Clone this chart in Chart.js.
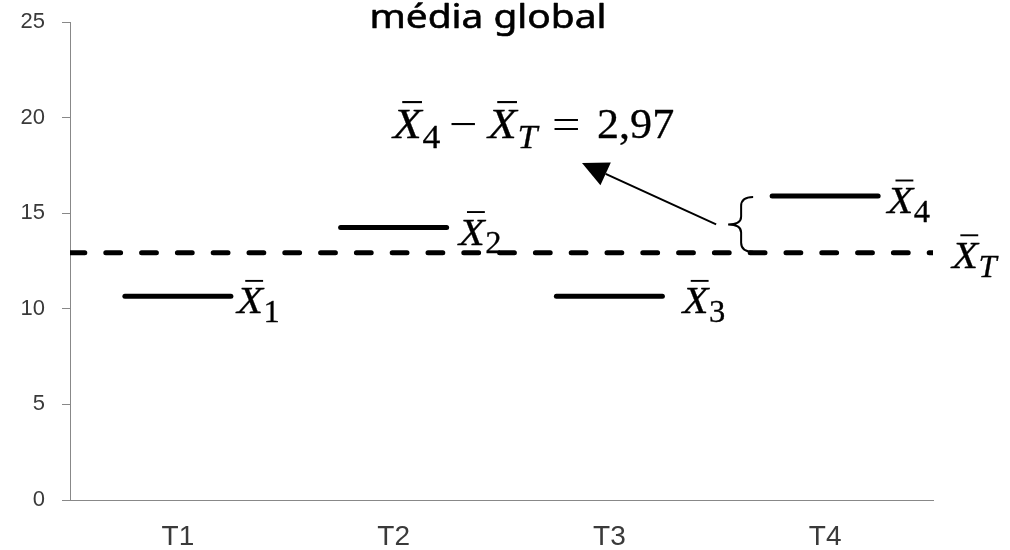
<!DOCTYPE html>
<html>
<head>
<meta charset="utf-8">
<script src="https://cdn.jsdelivr.net/npm/chart.js@4/dist/chart.umd.min.js"></script>
<style>
  html, body { margin: 0; padding: 0; background: #ffffff; }
  #wrap { width: 1010px; height: 550px; position: relative; }
</style>
</head>
<body>
<div id="wrap"><canvas id="chart" width="1010" height="550"></canvas></div>
<script>
// Treatment groups and their means
const categories = ['T1', 'T2', 'T3', 'T4'];
const groupMeans = [10.65, 14.25, 10.65, 15.90];
const meanSubscripts = ['1', '2', '3', '4'];
// Overall mean across all treatments
const globalMean = 12.93;
// Difference shown in the annotation (X̄4 − X̄T)
const diffText = '2,97';
// Value axis ticks
const yTicks = [0, 5, 10, 15, 20, 25];
const titleText = 'média global';

const MATH_FONT = "'Liberation Serif', 'DejaVu Serif', serif";
const AXIS_GRAY = '#888888';

// Draw one piece of text, optionally stretched horizontally
function drawText(ctx, text, x, baseline, font, sx, stroke) {
  ctx.save();
  ctx.translate(x, baseline);
  ctx.scale(sx || 1, 1);
  ctx.font = font;
  ctx.textBaseline = 'alphabetic';
  ctx.textAlign = 'left';
  ctx.fillText(text, 0, 0);
  if (stroke) {
    ctx.lineWidth = stroke;
    ctx.strokeStyle = ctx.fillStyle;
    ctx.lineJoin = 'round';
    ctx.strokeText(text, 0, 0);
  }
  ctx.restore();
}

// X with an overbar, followed by a lowered subscript
function drawXbar(ctx, x, baseline, size, sub, subItalic, subSize) {
  const sx = 1.12;
  drawText(ctx, 'X', x, baseline, 'italic ' + size + 'px ' + MATH_FONT, sx, 0.3);
  ctx.save();
  ctx.fillStyle = '#000';
  ctx.fillRect(x + 0.22 * size, baseline - 0.88 * size, 0.47 * size, Math.max(1.6, size * 0.05));
  ctx.restore();
  if (sub) {
    drawText(ctx, sub, x + 0.70 * size, baseline + 0.23 * size,
      (subItalic ? 'italic ' : '') + subSize + 'px ' + MATH_FONT, 1.05, 0.3);
  }
}

const decorations = {
  id: 'decorations',
  beforeDatasetDraw(chart, args) {
    if (args.index === 0) chart.ctx.lineCap = 'round';
  },
  afterDatasetDraw(chart, args) {
    if (args.index === 0) chart.ctx.lineCap = 'butt';
  },
  afterDraw(chart) {
    const ctx = chart.ctx;
    const xs = chart.scales.x;
    const ys = chart.scales.y;
    const area = chart.chartArea;
    ctx.save();
    ctx.fillStyle = '#000';

    // Heading at the top
    const titleFont = "33px 'Noto Sans', 'Open Sans', sans-serif";
    ctx.font = titleFont;
    const tw = ctx.measureText(titleText).width;
    const targetW = 237;
    drawText(ctx, titleText, 488 - targetW / 2, 28, titleFont, targetW / tw, 0.6);

    // Labels next to each group mean
    const labelDx = [59, 65, 73, 62];
    groupMeans.forEach((v, i) => {
      const px = xs.getPixelForValue(i);
      const py = ys.getPixelForValue(v);
      drawXbar(ctx, px + labelDx[i], py + 17, 38, meanSubscripts[i], false, 31);
    });

    // Label for the overall mean line
    const yT = ys.getPixelForValue(globalMean);
    drawXbar(ctx, area.right + 19, yT + 15, 38, 'T', true, 31);

    // Brace spanning X̄T .. X̄4 next to the T4 mean
    const y4 = ys.getPixelForValue(groupMeans[3]);
    const bxR = xs.getPixelForValue(3) - 72;
    const bxM = bxR - 12;
    const bxL = bxR - 25;
    const top = y4 + 1, bot = yT - 1, mid = (top + bot) / 2;
    ctx.strokeStyle = '#000';
    ctx.lineWidth = 2;
    ctx.lineCap = 'butt';
    ctx.beginPath();
    ctx.moveTo(bxR, top);
    ctx.quadraticCurveTo(bxM, top, bxM, top + 9);
    ctx.lineTo(bxM, mid - 8);
    ctx.quadraticCurveTo(bxM, mid, bxL, mid);
    ctx.quadraticCurveTo(bxM, mid, bxM, mid + 8);
    ctx.lineTo(bxM, bot - 9);
    ctx.quadraticCurveTo(bxM, bot, bxR, bot);
    ctx.stroke();

    // Arrow from the brace towards the difference formula
    const sx0 = bxL - 12, sy0 = mid;
    const tipX = 582, tipY = 163;
    const dx = tipX - sx0, dy = tipY - sy0;
    const len = Math.hypot(dx, dy);
    const ux = dx / len, uy = dy / len;
    const headL = 26, headW = 12.5;
    const bx = tipX - ux * headL, by = tipY - uy * headL;
    ctx.beginPath();
    ctx.moveTo(sx0, sy0);
    ctx.lineTo(bx, by);
    ctx.stroke();
    ctx.beginPath();
    ctx.moveTo(tipX, tipY);
    ctx.lineTo(bx - uy * headW, by + ux * headW);
    ctx.lineTo(bx + uy * headW, by - ux * headW);
    ctx.closePath();
    ctx.fill();

    // Difference formula: X̄4 − X̄T = 2,97
    const fx = 393, fb = 138;
    drawXbar(ctx, fx, fb, 42, '4', false, 34);
    drawText(ctx, '\u2212', fx + 56, fb, '42px ' + MATH_FONT, 1.2);
    drawXbar(ctx, fx + 95, fb, 42, 'T', true, 34);
    drawText(ctx, '=', fx + 159, fb, '42px ' + MATH_FONT, 1.2);
    drawText(ctx, diffText, fx + 204, fb, '42px ' + MATH_FONT, 1.05, 0.3);

    ctx.restore();
  }
};

new Chart(document.getElementById('chart'), {
  type: 'line',
  data: {
    labels: categories,
    datasets: [
      {
        label: 'Médias',
        data: groupMeans,
        showLine: false,
        pointStyle: 'line',
        pointRadius: 53,
        pointHoverRadius: 53,
        pointBorderWidth: 5,
        pointHoverBorderWidth: 5,
        borderColor: '#000000',
        backgroundColor: '#000000'
      },
      {
        label: 'Média global',
        xAxisID: 'xs',
        data: [{ x: 0, y: globalMean }, { x: 1, y: globalMean }],
        borderColor: '#000000',
        borderWidth: 5,
        borderDash: [14.8, 21],
        borderCapStyle: 'round',
        pointRadius: 0,
        pointHoverRadius: 0,
        fill: false
      }
    ]
  },
  options: {
    responsive: false,
    devicePixelRatio: 1,
    animation: false,
    events: [],
    layout: { autoPadding: false, padding: { top: 22, right: 77, bottom: 0, left: 0 } },
    plugins: {
      legend: { display: false },
      tooltip: { enabled: false },
      title: { display: false }
    },
    scales: {
      x: {
        type: 'category',
        offset: true,
        grid: { display: false },
        border: { display: true, color: AXIS_GRAY, width: 1 },
        ticks: {
          color: '#3a3a3a',
          padding: 12,
          font: { family: "'Liberation Sans Narrow', 'Liberation Sans', sans-serif", size: 28 }
        },
        afterFit(scale) {
          scale.height = 50;
          scale.paddingLeft = 0;
          scale.paddingRight = 0;
        }
      },
      xs: {
        type: 'linear',
        display: false,
        min: 0,
        max: 1
      },
      y: {
        min: 0,
        max: 25,
        afterBuildTicks(scale) { scale.ticks = yTicks.map(v => ({ value: v })); },
        grid: {
          drawOnChartArea: false,
          drawTicks: true,
          tickLength: 8,
          color: AXIS_GRAY
        },
        border: { display: true, color: AXIS_GRAY, width: 1 },
        ticks: {
          color: '#3a3a3a',
          padding: 17,
          font: { family: "'Liberation Sans', sans-serif", size: 22 }
        },
        afterFit(scale) {
          scale.width = 70;
          scale.paddingTop = 0;
          scale.paddingBottom = 0;
        }
      }
    }
  },
  plugins: [decorations]
});
</script>
</body>
</html>
